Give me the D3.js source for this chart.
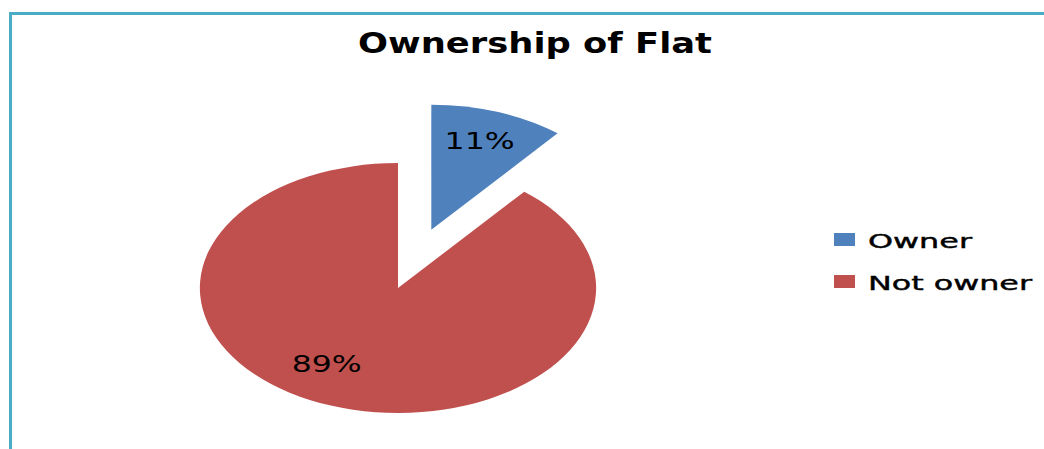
<!DOCTYPE html>
<html>
<head>
<meta charset="utf-8">
<script src="https://cdn.jsdelivr.net/npm/d3@7"></script>
<style>
  html, body { margin: 0; padding: 0; background: #fff; }
  svg { display: block; }
  text { font-family: "DejaVu Sans", sans-serif; fill: #000; }
</style>
</head>
<body>
<svg id="chart" width="1044" height="449"></svg>
<script>
// Flat ownership shares (percent)
const categories = ["Owner", "Not owner"];
const shares = [11, 89];
const labels = ["11%", "89%"];
const colors = ["#4f81bd", "#c0504d"];

const svg = d3.select("#chart");
const W = 1044, H = 449;

// frame: top and left rule
svg.append("path")
  .attr("d", `M10.5,${H} L10.5,13.5 L${W},13.5`)
  .attr("fill", "none")
  .attr("stroke", "#4bacc6")
  .attr("stroke-width", 3);

// title
svg.append("text")
  .attr("x", 535).attr("y", 53)
  .attr("text-anchor", "middle")
  .attr("font-size", 29)
  .attr("font-weight", "bold")
  .attr("textLength", 354)
  .attr("lengthAdjust", "spacingAndGlyphs")
  .text("Ownership of Flat");

// pie, drawn as a circle stretched horizontally
const R = 125, sx = 1.585;
const cx = 398, cy = 288;
const explode = 62;
// small shifts applied to the data labels after centroid placement
const labelNudge = [[-2, -1], [-21, -12]];

const pie = d3.pie().sort(null).value(d => d)(shares);
const arc = d3.arc().innerRadius(0).outerRadius(R);
const labelArc = d3.arc().innerRadius(R * 0.75).outerRadius(R * 0.75);

const g = svg.append("g").attr("transform", `translate(${cx},${cy})`);

pie.forEach((p, i) => {
  const mid = (p.startAngle + p.endAngle) / 2;
  const off = i === 0 ? explode : 0;
  const ox = Math.sin(mid) * off * sx;
  const oy = -Math.cos(mid) * off;
  const sg = g.append("g").attr("transform", `translate(${ox},${oy})`);
  sg.append("path")
    .attr("d", arc(p))
    .attr("transform", `scale(${sx},1)`)
    .attr("fill", colors[i]);
  const c = labelArc.centroid(p);
  sg.append("text")
    .attr("x", c[0] * sx + labelNudge[i][0])
    .attr("y", c[1] + labelNudge[i][1])
    .attr("dy", "0.36em")
    .attr("text-anchor", "middle")
    .attr("font-size", 23)
    .attr("textLength", 70)
    .attr("lengthAdjust", "spacingAndGlyphs")
    .text(labels[i]);
});

// legend
const legend = svg.append("g").attr("transform", "translate(834,233)");
const legendWidths = [104, 164];
categories.forEach((name, i) => {
  const row = legend.append("g").attr("transform", `translate(0,${i * 42})`);
  row.append("rect")
    .attr("width", 21).attr("height", 13)
    .attr("fill", colors[i]);
  row.append("text")
    .attr("x", 34).attr("y", 15)
    .attr("font-size", 19)
    .attr("stroke", "#000")
    .attr("stroke-width", 0.4)
    .attr("textLength", legendWidths[i])
    .attr("lengthAdjust", "spacingAndGlyphs")
    .text(name);
});
</script>
</body>
</html>
